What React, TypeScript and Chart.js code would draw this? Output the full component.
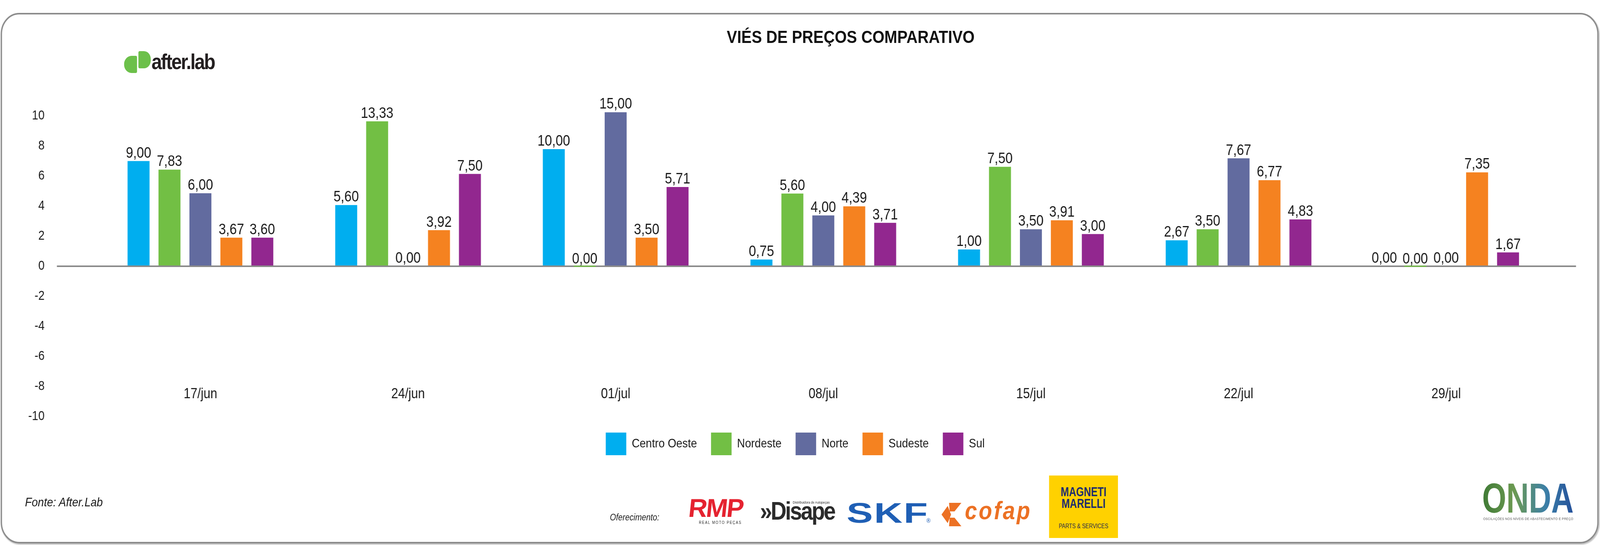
import React, { useEffect, useRef } from 'react';
import { Chart, registerables } from 'chart.js';

Chart.register(...registerables);

// ---------- data ----------
const categories = ['17/jun', '24/jun', '01/jul', '08/jul', '15/jul', '22/jul', '29/jul'];
const seriesNames = ['Centro Oeste', 'Nordeste', 'Norte', 'Sudeste', 'Sul'];

// bar heights as they are drawn in the reference
const centroOesteBars = [7.0, 4.07, 7.79, 0.45, 1.12, 1.73, 0];
const nordesteBars = [6.43, 9.64, 0, 4.84, 6.62, 2.46, 0];
const norteBars = [4.86, 0, 10.25, 3.38, 2.46, 7.18, 0];
const sudesteBars = [1.9, 2.4, 1.9, 3.99, 3.06, 5.73, 6.25];
const sulBars = [1.9, 6.14, 5.27, 2.89, 2.14, 3.12, 0.92];

// value labels printed above the bars
const centroOesteLabels = [9.0, 5.6, 10.0, 0.75, 1.0, 2.67, 0.0];
const nordesteLabels = [7.83, 13.33, 0.0, 5.6, 7.5, 3.5, 0.0];
const norteLabels = [6.0, 0.0, 15.0, 4.0, 3.5, 7.67, 0.0];
const sudesteLabels = [3.67, 3.92, 3.5, 4.39, 3.91, 6.77, 7.35];
const sulLabels = [3.6, 7.5, 5.71, 3.71, 3.0, 4.83, 1.67];

const yTicks = [-10, -8, -6, -4, -2, 0, 2, 4, 6, 8, 10];

// ---------- styles ----------
const W = 4670;
const H = 1396;
const seriesColors = ['#00aeef', '#72bf44', '#626b9f', '#f58220', '#92278f'];
const SANS = "'Liberation Sans', Arial, sans-serif";
const TEXT = '#1a1a1a';

const barSeries = [centroOesteBars, nordesteBars, norteBars, sudesteBars, sulBars];
const labelSeries = [centroOesteLabels, nordesteLabels, norteLabels, sudesteLabels, sulLabels];

const fmt = (v: number) => v.toFixed(2).replace('.', ',');

const valueLabelPlugin = {
  id: 'valueLabels',
  afterDatasetsDraw(chart: any) {
    const ctx = chart.ctx;
    ctx.save();
    ctx.font = `38px ${SANS}`;
    ctx.fillStyle = TEXT;
    ctx.textAlign = 'center';
    ctx.textBaseline = 'alphabetic';
    chart.data.datasets.forEach((_ds: any, di: number) => {
      const meta = chart.getDatasetMeta(di);
      meta.data.forEach((bar: any, i: number) => {
        ctx.fillText(fmt(labelSeries[di][i]), bar.x, bar.y - 9);
      });
    });
    ctx.restore();
  },
};

const zeroOnly = (c: any) => (c.tick && c.tick.value === 0 ? '#8a8a8a' : 'rgba(0,0,0,0)');

function BarChart() {
  const ref = useRef<HTMLCanvasElement | null>(null);
  useEffect(() => {
    if (!ref.current) return;
    const chart = new Chart(ref.current, {
      type: 'bar',
      data: {
        labels: categories,
        datasets: seriesNames.map((name, i) => ({
          label: name,
          data: barSeries[i],
          backgroundColor: seriesColors[i],
          borderWidth: 0,
          categoryPercentage: 0.745,
          barPercentage: 0.71,
          minBarLength: i === 1 ? 3 : 0,
        })),
      },
      plugins: [valueLabelPlugin],
      options: {
        responsive: false,
        animation: false,
        devicePixelRatio: 1,
        layout: { padding: { top: 220, left: 42, right: 70, bottom: 220 } },
        plugins: {
          title: { display: false },
          tooltip: { enabled: false },
          legend: {
            position: 'bottom',
            labels: {
              boxWidth: 60,
              boxHeight: 58,
              padding: 41,
              color: TEXT,
              font: { family: SANS, size: 32 },
            },
          },
        },
        scales: {
          x: {
            type: 'category',
            position: { y: -7.95 } as any,
            offset: true,
            grid: { display: false, drawTicks: false },
            border: { display: false },
            ticks: { color: TEXT, padding: 0, font: { family: SANS, size: 36 } },
          },
          y: {
            position: 'left',
            min: -10,
            max: 12,
            afterBuildTicks: (scale: any) => {
              scale.ticks = yTicks.map((v) => ({ value: v }));
            },
            afterFit: (scale: any) => {
              scale.width = 240;
            },
            grid: { color: zeroOnly, lineWidth: 4, tickLength: 116, drawTicks: true },
            border: { display: false },
            ticks: { color: TEXT, padding: 36, font: { family: SANS, size: 33 } },
          },
          y2: {
            position: 'right',
            min: -10,
            max: 12,
            afterBuildTicks: (scale: any) => {
              scale.ticks = yTicks.map((v) => ({ value: v }));
            },
            afterFit: (scale: any) => {
              scale.width = 76;
            },
            grid: { color: zeroOnly, lineWidth: 4, tickLength: 76, drawTicks: true },
            border: { display: false },
            ticks: { display: false },
          },
        },
      } as any,
    });
    return () => chart.destroy();
  }, []);
  return (
    <canvas
      ref={ref}
      width={W}
      height={H}
      style={{ position: 'absolute', left: 0, top: 0, width: W, height: H }}
    />
  );
}

function AfterLabLogo() {
  return (
    <div style={{ position: 'absolute', left: 362, top: 131, height: 58 }}>
      <div style={{ position: 'absolute', left: 0, top: 12, width: 38, height: 44, background: '#6cc04a', borderRadius: '22px 4px 4px 22px' }} />
      <div style={{ position: 'absolute', left: 42, top: 0, width: 36, height: 44, background: '#6cc04a', borderRadius: '4px 20px 20px 4px' }} />
      <div
        style={{
          position: 'absolute',
          left: 80,
          top: 0,
          fontFamily: SANS,
          fontWeight: 700,
          fontSize: 55,
          lineHeight: '55px',
          letterSpacing: -3,
          color: '#231f20',
          whiteSpace: 'nowrap',
        }}
      >
        after.lab
      </div>
    </div>
  );
}

function Sponsors() {
  const abs = { position: 'absolute' as const, whiteSpace: 'nowrap' as const };
  return (
    <>
      <div style={{ ...abs, left: 1780, top: 1314, fontFamily: SANS, fontStyle: 'italic', fontSize: 23, lineHeight: '23px', color: TEXT }}>
        Oferecimento:
      </div>
      {/* RMP */}
      <div style={{ ...abs, left: 2014, top: 1268, fontFamily: SANS, fontWeight: 900, fontSize: 66, lineHeight: '66px', color: '#e52330', letterSpacing: -3, transform: 'scale(1.15, 1) skewX(-6deg)', transformOrigin: 'left top' }}>
        RMP
      </div>
      <div style={{ ...abs, left: 2040, top: 1334, fontFamily: SANS, fontSize: 10, lineHeight: '10px', color: '#222', letterSpacing: 2 }}>
        REAL MOTO PEÇAS
      </div>
      {/* Disape */}
      <div style={{ ...abs, left: 2314, top: 1283, fontFamily: SANS, fontSize: 9, lineHeight: '9px', color: '#222' }}>
        Distribuidora de Autopeças
      </div>
      <div style={{ ...abs, left: 2218, top: 1277, fontFamily: SANS, fontWeight: 700, fontSize: 64, lineHeight: '64px', color: '#2b2b2b', letterSpacing: -4 }}>
        »Disape
      </div>
      {/* SKF */}
      <div style={{ ...abs, left: 2471, top: 1278, fontFamily: SANS, fontWeight: 900, fontSize: 72, lineHeight: '72px', color: '#1f5fb5', letterSpacing: 2, transform: 'scale(1.6, 1)', transformOrigin: 'left top' }}>
        SKF
      </div>
      <div style={{ ...abs, left: 2704, top: 1326, fontFamily: SANS, fontSize: 16, lineHeight: '16px', color: '#1f5fb5' }}>®</div>
      {/* cofap */}
      <svg style={{ position: 'absolute', left: 2748, top: 1288 }} width={68} height={60} viewBox="0 0 68 60">
        <polygon points="22,0 58,0 38,22 24,22" fill="#ec7124" />
        <polygon points="0,30 18,8 28,30 18,52" fill="#ec7124" />
        <polygon points="24,38 38,38 58,60 22,60" fill="#ec7124" />
      </svg>
      <div style={{ ...abs, left: 2816, top: 1276, fontFamily: SANS, fontWeight: 900, fontStyle: 'italic', fontSize: 64, lineHeight: '64px', color: '#ec7124', letterSpacing: 5 }}>
        cofap
      </div>
      {/* Magneti Marelli */}
      <div style={{ position: 'absolute', left: 3062, top: 1218, width: 201, height: 160, background: '#ffd100' }}>
        <div style={{ position: 'absolute', left: 0, width: 201, top: 26, textAlign: 'center', fontFamily: SANS, fontWeight: 700, color: '#1e2d6e', fontSize: 34, lineHeight: '30px', transform: 'scale(0.85, 1)' }}>
          <div>MAGNETI</div>
          <div>MARELLI</div>
        </div>
        <div style={{ position: 'absolute', left: 0, width: 201, top: 122, textAlign: 'center', fontFamily: SANS, fontSize: 16, lineHeight: '16px', color: '#2a2f4a', transform: 'scale(0.95, 1)' }}>
          PARTS &amp; SERVICES
        </div>
      </div>
      {/* ONDA */}
      <div
        style={{
          ...abs,
          left: 4326,
          top: 1222,
          fontFamily: SANS,
          fontWeight: 700,
          fontSize: 108,
          lineHeight: '108px',
          background: 'linear-gradient(90deg, #3f7a35 0%, #6c9a52 35%, #3c7fa8 70%, #24509a 100%)',
          WebkitBackgroundClip: 'text',
          backgroundClip: 'text',
          color: 'transparent',
          transform: 'scale(0.84, 1)',
          transformOrigin: 'left top',
        }}
      >
        ONDA
      </div>
      <div style={{ ...abs, left: 4329, top: 1325, fontFamily: SANS, fontSize: 9, lineHeight: '9px', color: '#555', letterSpacing: 0.3 }}>
        OSCILAÇÕES NOS NÍVEIS DE ABASTECIMENTO E PREÇO
      </div>
    </>
  );
}

export default function App() {
  const vw = typeof window !== 'undefined' ? window.innerWidth : W;
  const vh = typeof window !== 'undefined' ? window.innerHeight : H;
  const sx = vw / W;
  const sy = vh / H;
  return (
    <div style={{ position: 'fixed', left: 0, top: 0, width: vw, height: vh, overflow: 'hidden', background: '#ffffff' }}>
      <div
        style={{
          position: 'absolute',
          left: 0,
          top: 0,
          width: W,
          height: H,
          transform: `scale(${sx}, ${sy})`,
          transformOrigin: '0 0',
        }}
      >
        <div
          style={{
            position: 'absolute',
            left: 2,
            top: 33,
            width: 4664,
            height: 1359,
            boxSizing: 'border-box',
            border: '4px solid #8c8c8c',
            borderRadius: 54,
            boxShadow: '2px 3px 3px rgba(0,0,0,0.25)',
          }}
        />
        <BarChart />
        <div
          style={{
            position: 'absolute',
            left: 2483 - 700,
            width: 1400,
            top: 72,
            textAlign: 'center',
            fontFamily: SANS,
            fontWeight: 700,
            fontSize: 45,
            lineHeight: '45px',
            color: '#111',
          }}
        >
          VIÉS DE PREÇOS COMPARATIVO
        </div>
        <AfterLabLogo />
        <div style={{ position: 'absolute', left: 73, top: 1270, fontFamily: SANS, fontStyle: 'italic', fontSize: 32, lineHeight: '32px', color: TEXT, whiteSpace: 'nowrap' }}>
          Fonte: After.Lab
        </div>
        <Sponsors />
      </div>
    </div>
  );
}
